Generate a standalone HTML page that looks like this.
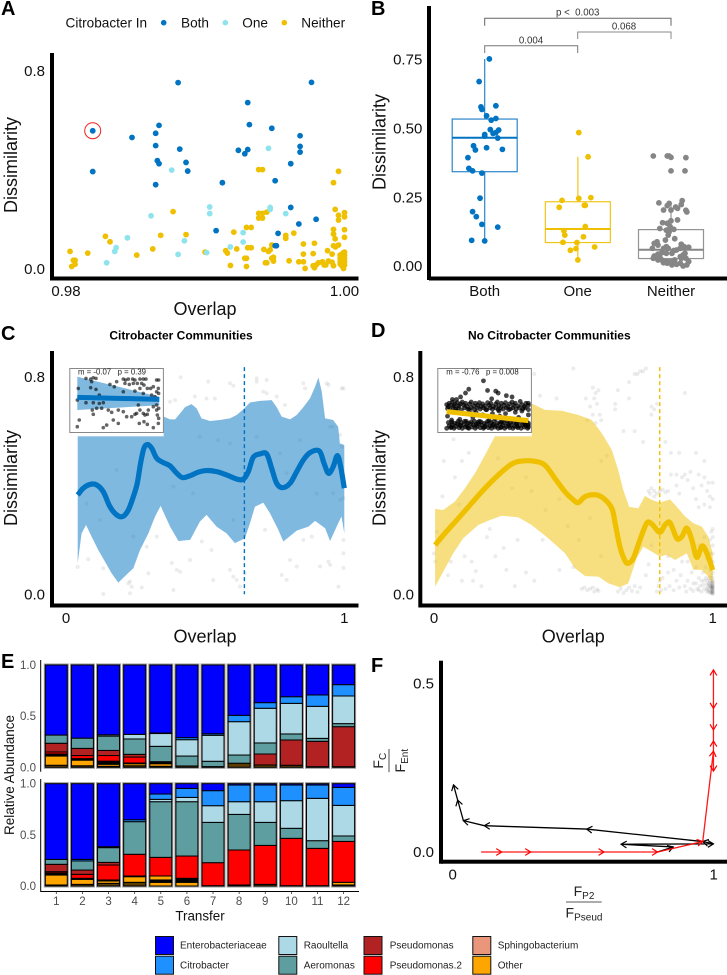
<!DOCTYPE html>
<html lang="en">
<head>
<meta charset="utf-8">
<title>Citrobacter community dissimilarity figure</title>
<style>
html,body{margin:0;padding:0;background:#fff;}
svg{display:block;font-family:"Liberation Sans",Arial,sans-serif;filter:blur(.3px);}
.t15{font-size:15px;fill:#111;}
.t18{font-size:18px;fill:#111;}
.t14{font-size:13.6px;fill:#111;}
.pl{font-size:20px;font-weight:bold;fill:#000;}
.ttl{font-size:12px;font-weight:bold;fill:#000;}
.e{font-size:11.5px;fill:#4d4d4d;}
.lg{font-size:10px;fill:#222;}
.br{font-size:9.7px;fill:#333;white-space:pre;}
.ins{font-size:7.8px;fill:#222;white-space:pre;}
.frac{font-size:14px;fill:#222;}
.sub{font-size:10px;fill:#222;}
</style>
</head>
<body>
<svg id="chart" width="727" height="975" viewBox="0 0 727 975" xmlns="http://www.w3.org/2000/svg">
<rect width="727" height="975" fill="#fff"/>

<!-- Panel letters -->
<text class="pl" x="1" y="15">A</text>
<text class="pl" x="371" y="15">B</text>
<text class="pl" x="1" y="340">C</text>
<text class="pl" x="371" y="337">D</text>
<text class="pl" x="1" y="668">E</text>
<text class="pl" x="371" y="672">F</text>

<!-- Panel A static -->
<g id="panelA"></g>
<text class="t14" x="65.5" y="27.5">Citrobacter In</text>
<circle cx="163.7" cy="22.7" r="2.8" fill="#0073C2"/>
<text class="t14" x="181" y="27.5">Both</text>
<circle cx="225.3" cy="22.7" r="2.8" fill="#8FE3EC"/>
<text class="t14" x="242.3" y="27.5">One</text>
<circle cx="284.3" cy="22.7" r="2.8" fill="#EFC000"/>
<text class="t14" x="301.3" y="27.5">Neither</text>
<rect x="50" y="53" width="4" height="227" fill="#000"/>
<rect x="50" y="276.5" width="308.5" height="4" fill="#000"/>
<circle cx="92.7" cy="130.7" r="8" fill="none" stroke="#f02020" stroke-width="1"/>
<text class="t15" x="45" y="76.2" text-anchor="end">0.8</text>
<text class="t15" x="45" y="273.9" text-anchor="end">0.0</text>
<text class="t15" x="66" y="296.2" text-anchor="middle">0.98</text>
<text class="t15" x="344.5" y="296.2" text-anchor="middle">1.00</text>
<text class="t18" x="205" y="315" text-anchor="middle">Overlap</text>
<text class="t18" transform="translate(17,165) rotate(-90)" text-anchor="middle">Dissimilarity</text>

<!-- Panel B static -->
<g id="panelB"></g>
<rect x="427" y="6" width="4" height="274" fill="#000"/>
<rect x="429" y="276.5" width="298" height="4" fill="#000"/>
<text class="t15" x="422.3" y="64.5" text-anchor="end">0.75</text>
<text class="t15" x="422.3" y="133.7" text-anchor="end">0.50</text>
<text class="t15" x="422.3" y="202.5" text-anchor="end">0.25</text>
<text class="t15" x="422.3" y="271.2" text-anchor="end">0.00</text>
<text class="t15" x="484.7" y="296" text-anchor="middle">Both</text>
<text class="t15" x="577.7" y="296" text-anchor="middle">One</text>
<text class="t15" x="671" y="296" text-anchor="middle">Neither</text>
<text class="t18" transform="translate(385.5,142) rotate(-90)" text-anchor="middle">Dissimilarity</text>
<path d="M484.7 25.7V18.3H671V25.7" fill="none" stroke="#666" stroke-width="1"/>
<path d="M577.7 39V32H671V39" fill="none" stroke="#888" stroke-width="1"/>
<path d="M484.7 53V45.7H577.7V53" fill="none" stroke="#777" stroke-width="1"/>
<text class="br" x="577.7" y="15.5" text-anchor="middle">p &lt;  0.003</text>
<text class="br" x="624" y="29.5" text-anchor="middle">0.068</text>
<text class="br" x="531" y="43.5" text-anchor="middle">0.004</text>

<!-- Panel C static -->
<text class="ttl" x="181" y="339.5" text-anchor="middle">Citrobacter Communities</text>
<g id="panelC"></g>
<rect x="50" y="351" width="4" height="256.5" fill="#000"/>
<rect x="50" y="603.5" width="308.5" height="4" fill="#000"/>
<text class="t15" x="45" y="382" text-anchor="end">0.8</text>
<text class="t15" x="45" y="599.5" text-anchor="end">0.0</text>
<text class="t15" x="66" y="623.2" text-anchor="middle">0</text>
<text class="t15" x="344.3" y="623.2" text-anchor="middle">1</text>
<text class="t18" x="205" y="642.5" text-anchor="middle">Overlap</text>
<text class="t18" transform="translate(17,478) rotate(-90)" text-anchor="middle">Dissimilarity</text>
<g>
<rect x="69.3" y="368.3" width="94.4" height="68" fill="#fff"/>
<g id="insetC"></g>
<rect x="69.8" y="368.5" width="93.6" height="64" fill="none" stroke="#888" stroke-width="1"/>
<text class="ins" x="112" y="374.5" text-anchor="middle">m = -0.07   p = 0.39</text>
</g>

<!-- Panel D static -->
<text class="ttl" x="549.3" y="339.5" text-anchor="middle">No Citrobacter Communities</text>
<g id="panelD"></g>
<rect x="418.3" y="351" width="4" height="256.5" fill="#000"/>
<rect x="420" y="603.5" width="307" height="4" fill="#000"/>
<text class="t15" x="414" y="382" text-anchor="end">0.8</text>
<text class="t15" x="414" y="599.5" text-anchor="end">0.0</text>
<text class="t15" x="434" y="623.2" text-anchor="middle">0</text>
<text class="t15" x="712.7" y="623.2" text-anchor="middle">1</text>
<text class="t18" x="573.3" y="642.5" text-anchor="middle">Overlap</text>
<text class="t18" transform="translate(385.5,478) rotate(-90)" text-anchor="middle">Dissimilarity</text>
<g>
<rect x="437.3" y="368.3" width="94.4" height="68" fill="#fff"/>
<g id="insetD"></g>
<rect x="437.8" y="368.5" width="93.6" height="64" fill="none" stroke="#888" stroke-width="1"/>
<text class="ins" x="482.5" y="374.5" text-anchor="middle">m = -0.76   p = 0.008</text>
</g>

<!-- Panel E static -->
<g id="panelE"></g>
<path d="M40.7 660V771.7M40.7 779V891.5H359" fill="none" stroke="#000" stroke-width="1"/>
<text class="e" x="36" y="669" text-anchor="end">1.0</text>
<text class="e" x="36" y="720" text-anchor="end">0.5</text>
<text class="e" x="36" y="771.3" text-anchor="end">0.0</text>
<text class="e" x="36" y="787.7" text-anchor="end">1.0</text>
<text class="e" x="36" y="839" text-anchor="end">0.5</text>
<text class="e" x="36" y="890" text-anchor="end">0.0</text>
<g id="eTicks"></g>
<text x="200" y="920.5" text-anchor="middle" style="font-size:13.4px;fill:#111">Transfer</text>
<text transform="translate(14,775) rotate(-90)" text-anchor="middle" style="font-size:13.5px;fill:#111">Relative Abundance</text>

<!-- Panel F static -->
<g id="panelF"></g>
<rect x="439" y="660.7" width="4" height="203" fill="#000"/>
<rect x="441" y="859.7" width="286" height="4" fill="#000"/>
<text class="t15" x="434" y="688.5" text-anchor="end">0.5</text>
<text class="t15" x="434" y="857.2" text-anchor="end">0.0</text>
<text class="t15" x="452.7" y="879.5" text-anchor="middle">0</text>
<text class="t15" x="713.7" y="879.5" text-anchor="middle">1</text>
<g>
<text class="frac" x="584" y="896" text-anchor="middle">F<tspan class="sub" dy="3">P2</tspan></text>
<line x1="566" x2="601.7" y1="902" y2="902" stroke="#222" stroke-width="0.8"/>
<text class="frac" x="584" y="917.5" text-anchor="middle">F<tspan class="sub" dy="3">Pseud</tspan></text>
</g>
<g>
<text class="frac" transform="translate(383,760.7) rotate(-90)" text-anchor="middle">F<tspan class="sub" dy="3">C</tspan></text>
<line x1="389" x2="389" y1="749" y2="772.3" stroke="#222" stroke-width="0.8"/>
<text class="frac" transform="translate(405,760.7) rotate(-90)" text-anchor="middle">F<tspan class="sub" dy="3">Ent</tspan></text>
</g>

<!-- Shared legend -->
<g>
<g id="legendE"></g>
<text class="lg" x="180" y="948.7">Enterobacteriaceae</text>
<text class="lg" x="180" y="968.4">Citrobacter</text>
<text class="lg" x="303.7" y="948.7">Raoultella</text>
<text class="lg" x="303.7" y="968.4">Aeromonas</text>
<text class="lg" x="389.7" y="948.7">Pseudomonas</text>
<text class="lg" x="389.7" y="968.4">Pseudomonas.2</text>
<text class="lg" x="497.7" y="948.7">Sphingobacterium</text>
<text class="lg" x="497.7" y="968.4">Other</text>
</g>
</svg>

<script>
/* ---------- Panel A data: [overlap, dissimilarity] ---------- */
const aBoth = [[.98192,.558],[.98192,.393],[.98474,.531],[.98644,.548],[.98668,.58],[.98644,.498],[.98817,.484],[.98656,.437],[.98668,.425],[.98862,.43],[.98874,.395],[.98644,.34],[.98805,.753],[.99123,.348],[.99078,.154],[.99305,.672],[.99317,.583],[.99238,.479],[.99284,.465],[.99305,.482],[.99478,.568],[.99614,.425],[.99681,.538],[.99681,.495],[.99681,.472],[.99763,.754],[.99502,.356],[.99614,.248],[.99672,.181],[.99796,.2],[.99523,.143],[.99502,.093],[.99511,.093]];
const aOne = [[.99454,.487],[.98759,.399],[.99032,.25],[.99032,.223],[.98611,.214],[.98441,.125],[.9836,.085],[.9835,.07],[.98292,.024],[.98805,.058],[.9885,.113],[.9901,.065],[.9918,.088],[.99272,.146],[.99272,.108],[.99466,.248],[.99466,.24],[.99578,.223]];
const aNeither = [[.98029,.07],[.98156,.063],[.98053,.034],[.98065,.034],[.98065,.018],[.98041,.009],[.98283,.131],[.98316,.109],[.98508,.055],[.98623,.08],[.9868,.135],[.98769,.231],[.98862,.138],[.98999,.067],[.99147,.073],[.99159,.063],[.99205,.148],[.99181,.013],[.99226,.08],[.99296,.167],[.9933,.167],[.99305,.085],[.9933,.085],[.99284,.042],[.99296,.042],[.99296,.009],[.99384,.401],[.99411,.401],[.99384,.224],[.99411,.224],[.99384,.205],[.99411,.205],[.99442,.229],[.99421,.078],[.99454,.07],[.99466,.076],[.99432,.024],[.99442,.024],[.99478,.042],[.9949,.046],[.9949,.031],[.99478,.096],[.99578,.135],[.99578,.123],[.99636,.144],[.99602,.032],[.99672,.028],[.99705,.028],[.99705,.1],[.99705,.059],[.99717,.001],[.99784,.103],[.99775,.061],[.99775,.012],[.99784,.004],[.99796,.015],[.99813,.024],[.99842,.028],[.99854,.015],[.99866,.015],[.99885,.031],[.99911,.026],[.99921,.012],[.99878,.073],[.99911,.059],[.99921,.093],[.99935,.088],[.99921,.159],[.99921,.14],[.99933,.121],[.99957,.096],[.99921,.348],[.99957,.394],[.99933,.24],[.99957,.216],[.99957,.197],[1,.227],[1,.21],[1,.158],[1,.127],[.99969,.055],[.99981,.059],[.99993,.065],[1,.067],[1,.055],[.99969,.042],[.99981,.042],[1,.042],[1,.028],[.99969,.028],[.99988,.022],[1,.015],[.99993,.001],[.99981,.012],[.99969,.019]];

/* ---------- Panel B data ---------- */
const bCategories = ["Both","One","Neither"];
const bQ1 = [.342,.085,.027];
const bMedian = [.465,.134,.059];
const bQ3 = [.533,.233,.132];
const bWhiskerLow = [.092,.022,0];
const bWhiskerHigh = [.751,.396,.227];
const bPointsBoth = [[1.05,.751],[.94,.669],[.96,.577],[.97,.568],[1.12,.581],[1.02,.545],[1.07,.529],[1.12,.535],[1.06,.495],[1.15,.493],[1.12,.484],[1.09,.481],[1,.477],[1,.471],[1.14,.464],[.88,.436],[.9,.421],[1.02,.429],[1.19,.423],[.82,.393],[.83,.354],[.87,.345],[.97,.337],[.95,.246],[.87,.197],[.91,.179],[.97,.151],[1.14,.141],[.86,.093],[1,.091]];
const bPointsOne = [[2.01,.484],[2.11,.396],[2.01,.245],[2.14,.248],[1.83,.238],[1.8,.213],[2.07,.22],[2.08,.22],[2.08,.143],[1.85,.128],[1.86,.112],[2.06,.106],[1.84,.086],[1.99,.085],[1.98,.063],[1.92,.057],[2.18,.069],[2,.022]];
const bPointsNeither = [[2.81,.399],[2.96,.399],[2.98,.399],[3,.394],[3.16,.393],[3,.345],[3.15,.345],[2.87,.229],[2.98,.227],[2.96,.219],[3.12,.237],[3.11,.223],[3.05,.214],[3.07,.209],[3.16,.202],[3.17,.196],[2.92,.203],[3,.203],[3.07,.167],[2.91,.157],[3,.164],[2.96,.155],[2.88,.136],[2.99,.143],[2.95,.13],[3.03,.133],[2.98,.124],[3.04,.099],[2.97,.112],[2.94,.094],[2.85,.088],[2.82,.082],[2.86,.076],[2.8,.064],[2.92,.064],[2.95,.07],[2.97,.064],[3.03,.056],[3.06,.058],[3.11,.079],[3.14,.07],[3.19,.068],[3.1,.064],[3.15,.046],[2.86,.043],[2.82,.036],[2.85,.034],[2.88,.031],[2.81,.028],[2.9,.022],[2.94,.016],[2.97,.016],[3.01,.016],[3.04,.022],[3.1,.034],[3.13,.04],[3.16,.028],[3.19,.016],[3.17,.004],[3.13,0],[3.1,.01],[3.06,.006],[3.01,.004],[2.96,.01],[2.92,.012],[2.86,.022],[3.11,.028],[2.95,.046],[3.01,.046],[2.9,.048]];

/* ---------- Panel C data ---------- */
const cLine = [[.042,.365],[.062,.39],[.086,.404],[.11,.402],[.134,.377],[.158,.322],[.182,.292],[.204,.286],[.224,.31],[.242,.359],[.256,.408],[.268,.482],[.28,.537],[.293,.551],[.308,.537],[.326,.5],[.35,.484],[.374,.472],[.398,.445],[.419,.429],[.446,.436],[.475,.449],[.505,.455],[.541,.451],[.577,.439],[.613,.424],[.637,.423],[.655,.451],[.673,.504],[.697,.516],[.721,.516],[.739,.463],[.757,.408],[.778,.392],[.805,.408],[.829,.451],[.853,.494],[.877,.521],[.91,.527],[.927,.482],[.943,.445],[.96,.469],[.975,.51],[.987,.469],[1,.39]];
const cUpper = [[.042,.641],[.351,.653],[.374,.643],[.392,.643],[.41,.665],[.428,.688],[.451,.699],[.469,.684],[.487,.647],[.517,.637],[.553,.641],[.589,.647],[.613,.659],[.637,.68],[.661,.705],[.697,.711],[.739,.714],[.757,.688],[.775,.653],[.805,.643],[.829,.659],[.853,.688],[.877,.721],[.895,.763],[.907,.797],[.919,.745],[.931,.647],[.96,.641],[.978,.616],[.984,.555],[1,.549]];
const cLower = [[.042,.114],[.056,.224],[.072,.255],[.092,.212],[.116,.163],[.14,.12],[.164,.077],[.188,.043],[.212,.067],[.242,.096],[.266,.163],[.296,.224],[.32,.286],[.34,.325],[.374,.249],[.404,.196],[.446,.2],[.481,.267],[.505,.292],[.541,.249],[.577,.224],[.607,.188],[.643,.206],[.661,.261],[.679,.322],[.709,.337],[.733,.298],[.763,.237],[.781,.194],[.829,.234],[.871,.249],[.895,.27],[.931,.243],[.949,.196],[.978,.261],[.99,.286],[1,.224]];
const cMeanOverlap = [.641];
const cBackground = [[.412,.798],[.511,.782],[.589,.776],[.601,.767],[.685,.794],[.685,.782],[.721,.788],[.853,.776],[.859,.757],[.937,.776],[.943,.77],[.991,.757],[.997,.757],[.709,.745],[.721,.739],[.535,.72],[.505,.72],[.392,.714],[.374,.708],[.463,.727],[.757,.727],[.787,.696],[.985,.586],[.991,.543],[.042,.101],[.08,.129],[.134,.096],[.134,.001],[.23,.004],[.23,.047],[.224,.04],[.236,.028],[.272,.025],[.29,.175],[.326,.212],[.296,.077],[.38,.115],[.398,.09],[.41,.083],[.446,.126],[.386,.016],[.488,.194],[.523,.163],[.529,.052],[.589,.09],[.601,.065],[.643,.077],[.613,.053],[.625,.028],[.715,.237],[.775,.071],[.793,.053],[.805,.126],[.829,.102],[.853,.2],[.883,.212],[.943,.12],[.913,.102],[.949,.108],[.979,.028],[.997,.097],[.997,.2],[.997,.151],[.074,.334],[.122,.273],[.182,.457],[.242,.212],[.386,.396],[.457,.371],[.481,.58],[.547,.567],[.601,.273],[.589,.555],[.793,.445],[.841,.567],[.901,.37],[.949,.616],[.96,.616],[.985,.347],[.997,.353],[.96,.371],[.769,.518],[.685,.579]];
const cInsetPoints = [[.106,.742],[.163,.733],[.228,.742],[.195,.751],[.175,.698],[.012,.607],[.163,.617],[.228,.594],[.268,.518],[.398,.661],[.48,.698],[.451,.63],[.561,.733],[.589,.72],[.622,.733],[.675,.733],[.703,.72],[.764,.733],[.805,.733],[.837,.733],[.967,.72],[.992,.72],[.581,.675],[.634,.661],[.683,.675],[.732,.675],[.785,.675],[.813,.652],[.764,.607],[.854,.607],[.894,.607],[.927,.63],[.967,.562],[.988,.607],[.992,.54],[.561,.562],[.703,.571],[.805,.54],[.907,.518],[.947,.495],[0,.45],[.106,.414],[.195,.414],[.268,.405],[.317,.414],[.024,.18],[0,.09],[.183,.315],[.195,.257],[.236,.338],[.297,.338],[.378,.315],[.419,.284],[.5,.315],[.561,.293],[.602,.225],[.663,.225],[.703,.257],[.317,.077],[.358,.112],[.439,.18],[.5,.135],[.744,.383],[.764,.315],[.805,.27],[.825,.248],[.866,.315],[.927,.36],[.967,.383],[.756,.135],[.813,.157],[.854,.122],[.927,.077],[.988,.135],[.992,.203],[.976,.248],[.724,.27],[.854,.257],[.967,.315],[.992,.338]];
const cInsetFit = [[0,.486],[1,.459]];
const cInsetBandUpper = [[0,.765],[1,.495]];
const cInsetBandLower = [[0,.315],[1,.38]];

/* ---------- Panel D data ---------- */
const dLine = [[.004,.181],[.039,.224],[.087,.279],[.135,.335],[.183,.39],[.231,.439],[.279,.479],[.315,.49],[.362,.489],[.398,.475],[.434,.426],[.47,.377],[.5,.347],[.518,.337],[.542,.359],[.578,.366],[.608,.353],[.638,.316],[.65,.261],[.667,.175],[.685,.124],[.697,.114],[.715,.132],[.739,.2],[.763,.261],[.781,.259],[.81,.228],[.829,.255],[.847,.263],[.871,.206],[.889,.212],[.907,.243],[.925,.2],[.943,.136],[.963,.178],[.984,.138],[1,.089]];
const dUpper = [[.004,.314],[.033,.31],[.075,.341],[.111,.39],[.147,.445],[.183,.512],[.219,.582],[.267,.641],[.35,.702],[.398,.678],[.458,.675],[.518,.659],[.566,.641],[.602,.592],[.638,.531],[.661,.457],[.679,.384],[.7,.322],[.733,.316],[.757,.362],[.781,.347],[.81,.337],[.847,.349],[.871,.322],[.901,.286],[.931,.261],[.961,.249],[.984,.212],[1,.151]];
const dLower = [[.004,.028],[.033,.083],[.069,.151],[.105,.206],[.159,.255],[.201,.273],[.243,.289],[.303,.283],[.35,.255],[.41,.206],[.47,.151],[.506,.096],[.542,.067],[.59,.065],[.626,.04],[.667,.026],[.697,.04],[.727,.132],[.751,.175],[.781,.157],[.81,.139],[.835,.145],[.865,.126],[.907,.151],[.931,.09],[.961,.09],[.984,.065],[1,.04]];
const dMeanOverlap = [.81];
const dBackground = [[0,.15],[.005,.12],[.01,.23],[.015,.2],[.03,.36],[.035,.49],[.05,.07],[.06,.12],[.075,.43],[.09,.33],[.1,.49],[.11,.14],[.125,.52],[.135,.12],[.14,.05],[.15,.085],[.1,.05],[.17,.03],[.19,.21],[.2,.24],[.22,.14],[.25,.17],[.26,.09],[.29,.03],[.3,.2],[.33,.08],[.36,.05],[.39,.2],[.07,.57],[.04,.59],[.13,.78],[.2,.65],[.3,.62],[.36,.81],[.44,.72],[.5,.83],[.38,.73],[.23,.5],[.28,.39],[.33,.43],[.35,.38],[.4,.31],[.45,.35],[.48,.25],[.52,.2],[.56,.28],[.6,.49],[.62,.51],[.6,.14],[.5,.1],[.45,.09],[.57,.76],[.575,.72],[.58,.74],[.585,.7],[.59,.75],[.57,.66],[.55,.64],[.58,.63],[.6,.64],[.595,.66],[.56,.69],[.545,.72],[.65,.68],[.65,.7],[.66,.75],[.7,.72],[.7,.78],[.72,.81],[.74,.82],[.75,.82],[.73,.81],[.76,.83],[.78,.69],[.79,.68],[.78,.66],[.8,.7],[.9,.74],[.83,.56],[.85,.52],[.88,.52],[.94,.52],[.97,.49],[.75,.56],[.72,.6],[.68,.6],[.77,.38],[.775,.37],[.78,.39],[.79,.38],[.8,.37],[.81,.38],[.82,.385],[.83,.375],[.84,.38],[.79,.36],[.85,.44],[.87,.44],[.89,.43],[.9,.44],[.91,.42],[.92,.45],[.95,.44],[.97,.43],[.985,.41],[1,.41],[.96,.4],[.98,.38],[.99,.36],[.87,.4],[.88,.37],[.93,.39],[.94,.35],[.95,.32],[.97,.33],[1,.35],[.99,.32],[.53,.02],[.54,.025],[.55,.015],[.56,.02],[.57,.025],[.575,.01],[.585,.018],[.59,.012],[.66,.01],[.67,.02],[.68,.005],[.69,.015],[.7,.025],[.71,.012],[.72,.03],[.73,.008],[.74,.025],[.8,.01],[.805,.03],[.81,.05],[.815,.015],[.82,.06],[.83,.02],[.84,.08],[.845,.03],[.86,.015],[.87,.05],[.88,.025],[.885,.07],[.9,.03],[.905,.01],[.91,.05],[.92,.02],[.925,.08],[.93,.04],[.94,.1],[.945,.02],[.95,.06],[.955,.03],[.96,.01],[.965,.08],[.97,.05],[.975,.1],[.98,.02],[.98,.13],[.985,.06],[.985,.04],[.99,.01],[.99,.09],[.99,.15],[.995,.03],[.995,.07],[.995,.12],[1,.005],[1,.02],[1,.03],[1,.04],[1,.05],[1,.06],[1,.08],[1,.1],[1,.12],[1,.15],[1,.18],[1,.21],[1,.24],[.99,.2],[.995,.23],[.97,.21],[.95,.18],[.93,.17],[.91,.12],[.89,.12],[.86,.09],[.84,.14],[.78,.18],[.77,.11],[.76,.07]];
const dBackgroundEdge = [[1,.001],[1,.008],[1,.012],[1,.016],[1,.024],[1,.028],[1,.035],[1,.045],[.998,.004],[.998,.018],[.998,.03],[.996,.01],[.996,.022],[.996,.045],[.993,.005],[.993,.025],[.993,.04],[.993,.06],[.99,.03],[.99,.05],[.987,.015],[.987,.035],[.984,.007],[.984,.025],[.981,.05],[.978,.012],[.978,.035],[.975,.06],[.97,.02],[.965,.035],[.96,.05],[.95,.015],[.94,.04],[.93,.012]];
const dInsetPoints = [[0,.38],[.02,.35],[.03,.4],[.05,.37],[.07,.42],[.09,.36],[.1,.39],[.13,.41],[.15,.36],[.17,.39],[.19,.42],[.21,.37],[.23,.4],[.25,.35],[.28,.39],[.3,.42],[.33,.36],[.35,.4],[.38,.37],[.4,.41],[.42,.35],[.44,.39],[.47,.36],[.5,.41],[.52,.37],[.54,.4],[.57,.35],[.6,.39],[.62,.42],[.64,.36],[.67,.4],[.7,.37],[.72,.41],[.75,.35],[.77,.39],[.8,.42],[.82,.37],[.84,.4],[.87,.36],[.9,.43],[.92,.38],[.95,.35],[.97,.4],[1,.37],[1,.4],[.45,.75],[.5,.6],[.6,.59],[.63,.56],[.27,.62],[.23,.56],[.73,.52],[.17,.5],[.8,.5],[.07,.46],[.12,.46],[.55,.47],[.01,.2],[.06,.14],[.12,.28],[.16,.15],[.2,.24],[.24,.12],[.28,.3],[.32,.18],[.36,.26],[.4,.12],[.44,.22],[.48,.3],[.52,.13],[.56,.24],[.6,.16],[.64,.28],[.68,.12],[.72,.24],[.76,.3],[.8,.14],[.84,.26],[.88,.18],[.92,.28],[.96,.12],[1,.22],[.3,.24],[.65,.2],[0,.01],[.03,.05],[.05,.02],[.07,.07],[.09,.01],[.11,.04],[.13,.08],[.15,.02],[.17,.05],[.19,.01],[.21,.07],[.23,.03],[.25,.05],[.27,.01],[.29,.08],[.31,.03],[.33,.06],[.35,.01],[.37,.04],[.39,.08],[.41,.02],[.43,.06],[.45,.01],[.47,.04],[.49,.08],[.51,.02],[.53,.05],[.55,.01],[.57,.07],[.59,.03],[.61,.05],[.63,.01],[.65,.08],[.67,.03],[.69,.06],[.71,.01],[.73,.04],[.75,.08],[.77,.02],[.79,.06],[.81,.01],[.83,.04],[.85,.08],[.87,.02],[.89,.05],[.91,.01],[.93,.07],[.95,.03],[.97,.05],[.99,.01],[1,.06],[1,.03]];
const dInsetDense = [[.01,.32],[.04,.3],[.08,.33],[.11,.31],[.14,.33],[.18,.3],[.22,.33],[.26,.31],[.3,.33],[.34,.3],[.37,.33],[.41,.31],[.45,.33],[.49,.3],[.53,.33],[.56,.31],[.6,.33],[.63,.3],[.66,.33],[.69,.31],[.73,.33],[.78,.31],[.81,.33],[.85,.31],[.89,.33],[.93,.31],[.96,.33],[1,.3],[.02,.1],[.06,.11],[.1,.09],[.14,.12],[.18,.1],[.22,.12],[.26,.09],[.3,.11],[.34,.12],[.38,.1],[.42,.11],[.46,.09],[.5,.12],[.54,.1],[.58,.12],[.62,.09],[.66,.11],[.7,.1],[.74,.12],[.78,.1],[.82,.11],[.86,.09],[.9,.12],[.94,.1],[.98,.11],[1,.09],[.06,.03],[.16,.06],[.26,.02],[.36,.07],[.46,.03],[.56,.06],[.66,.02],[.76,.05],[.86,.04],[.96,.07]];
const dInsetFit = [[0,.27],[1,.13]];

/* ---------- Panel E data: fractions, one per transfer ---------- */
const transfers = [1,2,3,4,5,6,7,8,9,10,11,12];
const topLow = [.02,.015,.01,.015,.01,.013,.007,.04,.023,.02,.006,.006];
const topOther = [.09,.055,.02,.02,.025,0,0,0,0,0,0,0];
const topMinor = [.02,.015,.03,.007,.02,0,0,0,0,0,0,0];
const topOther2 = [0,0,0,0,0,0,0,0,0,0,0,0];
const topPseudo2 = [.02,.03,.055,.058,0,0,0,0,0,0,0,0];
const topPseudo = [.085,.07,.05,.027,0,0,0,0,.107,.247,.248,.391];
const topAero = [.08,.1,.14,.15,.15,.097,.052,.08,.108,.059,.029,.03];
const topRaoul = [0,0,.013,.045,.125,.16,.254,.326,.339,.299,.313,.27];
const topCitro = [0,0,0,0,.005,.02,.015,.062,.055,.065,.111,.111];
const topEntero = [.685,.715,.682,.678,.665,.71,.672,.492,.368,.31,.293,.192];
const botLow = [.01,.016,.026,.036,0,0,.003,.01,.016,.003,.003,.01];
const botOther = [.097,.049,.023,.055,.036,.036,0,0,0,0,0,.026];
const botMinor = [.02,.01,.01,.007,.023,.039,0,0,0,0,0,0];
const botOther2 = [0,0,0,0,.039,0,0,0,0,0,0,0];
const botPseudo2 = [.013,.039,.146,.212,.182,.218,.225,.342,.381,.463,.365,.4];
const botPseudo = [.072,.042,.026,0,0,0,0,0,0,0,0,0];
const botAero = [.048,.089,.144,.319,.544,.531,.394,.348,.225,.098,.075,.053];
const botRaoul = [0,0,0,0,.023,.042,.163,.124,.202,.27,.414,.299];
const botCitro = [0,.015,.009,.019,.052,.088,.147,.163,.163,.153,.13,.176];
const botEntero = [.74,.74,.616,.352,.101,.046,.068,.013,.013,.013,.013,.036];
const taxaLabels = ["Enterobacteriaceae","Citrobacter","Raoultella","Aeromonas","Pseudomonas","Pseudomonas.2","Sphingobacterium","Other"];

/* ---------- Panel F data: [F_P2/F_Pseud, F_C/F_Ent], in time order ---------- */
const fBlack = [[.785,0],[.845,.015],[.645,.023],[.999,.024],[.958,.031],[.513,.068],[.121,.078],[.041,.093],[.019,.154],[.003,.199]];
const fRed = [[.109,0],[.188,0],[.299,0],[.58,0],[.785,0],[.958,.031],[.999,.299],[.999,.54],[.999,.426],[.999,.362],[.999,.24],[.999,.329]];

/* ---------- Axis functions ---------- */
const axA = v => 66 + (v - .98) / .02 * 278.5;
const ayA = v => 268.7 - v / .8 * 197.7;
const axB = v => 484.7 + (v - 1) * 93.15;
const ayB = v => 266 - v * 275.7;
const axC = v => 66 + v * 278.3;
const axD = v => 434 + v * 278.7;
const ayCD = v => 594.3 - v * 272;
const ixC = v => 77.3 + v * 82;
const iyC = v => 426.7 - (v - .09) * 74.07;
const ixD = v => 446.7 + v * 81.7;
const iyD = v => 429 - v * 64.2;
const axE = i => 56.3 + i * 26.12;
const ayET = v => 767.3 - v * 102.3;
const ayEB = v => 886 - v * 102.3;
const axF = v => 452.7 + v * 261;
const ayF = v => 852 - v * 337.3;

const NS = 'http://www.w3.org/2000/svg';
function mk(tag, attrs, parent) {
  const el = document.createElementNS(NS, tag);
  for (const k in attrs) el.setAttribute(k, attrs[k]);
  parent.appendChild(el);
  return el;
}
function dots(parent, data, sx, sy, r, fill, op, name) {
  data.forEach(p => {
    const c = mk('circle', {cx: sx(p[0]), cy: sy(p[1]), r: r, fill: fill, 'fill-opacity': op}, parent);
    
    
  });
}
function curve(points, sx, sy) {
  const p = points.map(d => [sx(d[0]), sy(d[1])]);
  let s = 'M' + p[0][0] + ' ' + p[0][1];
  for (let i = 0; i < p.length - 1; i++) {
    const a = p[Math.max(i - 1, 0)], b = p[i], c = p[i + 1], d = p[Math.min(i + 2, p.length - 1)];
    s += 'C' + (b[0] + (c[0] - a[0]) / 6) + ' ' + (b[1] + (c[1] - a[1]) / 6) + ' ' +
         (c[0] - (d[0] - b[0]) / 6) + ' ' + (c[1] - (d[1] - b[1]) / 6) + ' ' + c[0] + ' ' + c[1];
  }
  return s;
}
function ribbon(upper, lower, sx, sy) {
  return 'M' + upper.concat(lower.slice().reverse()).map(d => sx(d[0]) + ' ' + sy(d[1])).join('L') + 'Z';
}
const byId = id => document.getElementById(id);

/* ---------- Panel A ---------- */
const gA = byId('panelA');
dots(gA, aNeither, axA, ayA, 2.9, '#EFC000', 1, 'point-neither');
dots(gA, aOne, axA, ayA, 2.9, '#8FE3EC', 1, 'point-one');
dots(gA, aBoth, axA, ayA, 2.9, '#0073C2', 1, 'point-both');

/* ---------- Panel B ---------- */
const gB = byId('panelB');
const bColors = ['#0073C2', '#EFC000', '#868686'];
const bStroke = ['#2A86CC', '#F1C518', '#949494'];
bCategories.forEach((cat, i) => {
  const cx = axB(i + 1), w = 32.5;
  const wh = mk('line', {x1: cx, x2: cx, y1: ayB(bWhiskerHigh[i]), y2: ayB(bWhiskerLow[i]), stroke: bStroke[i], 'stroke-width': 1.2}, gB);
  
  
  const box = mk('rect', {x: cx - w, y: ayB(bQ3[i]), width: 2 * w, height: ayB(bQ1[i]) - ayB(bQ3[i]), fill: '#fff', stroke: bStroke[i], 'stroke-width': 1.2}, gB);
  
  
  const med = mk('line', {x1: cx - w, x2: cx + w, y1: ayB(bMedian[i]), y2: ayB(bMedian[i]), stroke: bColors[i], 'stroke-width': 2}, gB);
  
  
});
dots(gB, bPointsBoth, axB, ayB, 2.9, '#0073C2', 1, 'jitter-point-both');
dots(gB, bPointsOne, axB, ayB, 2.9, '#EFC000', 1, 'jitter-point-one');
dots(gB, bPointsNeither, axB, ayB, 2.9, '#868686', 1, 'jitter-point-neither');

/* ---------- Panels C and D ---------- */
function smoothPanel(g, sx, bg, up, lo, line, color, mean) {
  dots(g, bg, sx, ayCD, 2, '#000', .075, 'background-point');
  const rb = mk('path', {d: ribbon(up, lo, sx, ayCD), fill: color, 'fill-opacity': .5, stroke: 'none'}, g);
  
  
  const dl = mk('line', {x1: sx(mean[0]), x2: sx(mean[0]), y1: ayCD(.835), y2: ayCD(0), stroke: color, 'stroke-width': 1.4, 'stroke-dasharray': '4 3'}, g);
  
  
  const ln = mk('path', {d: curve(line, sx, ayCD), fill: 'none', stroke: color, 'stroke-width': 5.2, 'stroke-linejoin': 'round'}, g);
  
  
}
smoothPanel(byId('panelC'), axC, cBackground, cUpper, cLower, cLine, '#0073C2', cMeanOverlap);
smoothPanel(byId('panelD'), axD, dBackground.concat(dBackgroundEdge), dUpper, dLower, dLine, '#EFC000', dMeanOverlap);

const gIC = byId('insetC');
const bandC = mk('path', {d: ribbon(cInsetBandUpper, cInsetBandLower, ixC, iyC), fill: '#0073C2', 'fill-opacity': .5}, gIC);


dots(gIC, cInsetPoints, ixC, iyC, 1.8, '#000', .6, 'c-inset-point');
const fitC = mk('path', {d: curve(cInsetFit, ixC, iyC), stroke: '#0073C2', 'stroke-width': 5, fill: 'none'}, gIC);



const gID = byId('insetD');
dots(gID, dInsetPoints.concat(dInsetDense), ixD, iyD, 2.4, '#000', .72, 'd-inset-point');
const fitD = mk('path', {d: curve(dInsetFit, ixD, iyD), stroke: '#EFC000', 'stroke-width': 5, fill: 'none'}, gID);



/* ---------- Panel E ---------- */
const gE = byId('panelE');
const segColors = ['#5c3d00', '#FFA500', '#000000', '#FFA500', '#FF0000', '#B22222', '#5F9EA0', '#ADD8E6', '#1E90FF', '#0000FF'];
const segNames = ['low-abundance', 'other', 'minor-taxon', 'other-upper', 'pseudomonas-2', 'pseudomonas', 'aeromonas', 'raoultella', 'citrobacter', 'enterobacteriaceae'];
function stackPanel(series, sy, label) {
  transfers.forEach((t, i) => {
    const bw = 22, x = axE(i) - bw / 2;
    const halo = mk('rect', {x: x - 1.5, y: sy(1) - 1.5, width: bw + 3, height: sy(0) - sy(1) + 3, fill: '#9a9a9a'}, gE);
    
    
    let acc = 0;
    series.forEach((arr, s) => {
      const v = arr[i];
      if (v <= 0) return;
      const r = mk('rect', {x: x, y: sy(acc + v), width: bw, height: sy(acc) - sy(acc + v), fill: segColors[s], stroke: '#000', 'stroke-width': 1}, gE);
      
      
      acc += v;
    });
  });
}
stackPanel([topLow, topOther, topMinor, topOther2, topPseudo2, topPseudo, topAero, topRaoul, topCitro, topEntero], ayET, 'top');
stackPanel([botLow, botOther, botMinor, botOther2, botPseudo2, botPseudo, botAero, botRaoul, botCitro, botEntero], ayEB, 'bottom');

const gT = byId('eTicks');
transfers.forEach((t, i) => {
  const tick = mk('line', {x1: axE(i), x2: axE(i), y1: 891.5, y2: 894, stroke: '#333', 'stroke-width': .8}, gT);
  
  
  const lab = mk('text', {x: axE(i), y: 905.2, 'text-anchor': 'middle', class: 'e'}, gT);
  lab.textContent = t;
  
  
});

/* legend swatches */
const gL = byId('legendE');
const swatchColors = ['#0000FF', '#1E90FF', '#ADD8E6', '#5F9EA0', '#B22222', '#FF0000', '#E9967A', '#FFA500'];
const swatchColumns = [155.5, 278.8, 364, 472.8];
taxaLabels.forEach((name, i) => {
  const col = Math.floor(i / 2), row = i % 2;
  const sw = mk('rect', {x: swatchColumns[col], y: 936.5 + row * 19.7, width: 18, height: 18, fill: swatchColors[i], stroke: '#111', 'stroke-width': 1}, gL);
  
  
});

/* ---------- Panel F ---------- */
const gF = byId('panelF');
function trajectory(data, color, op, name) {
  const line = mk('path', {d: 'M' + data.map(p => axF(p[0]) + ' ' + ayF(p[1])).join('L'), fill: 'none', stroke: color, 'stroke-width': 1.3, 'stroke-opacity': op}, gF);
  
  
  for (let i = 1; i < data.length; i++) {
    const x0 = axF(data[i - 1][0]), y0 = ayF(data[i - 1][1]), x1 = axF(data[i][0]), y1 = ayF(data[i][1]);
    const a = Math.atan2(y1 - y0, x1 - x0), L = 6.5, w = .55;
    const d = 'M' + (x1 - L * Math.cos(a - w)) + ' ' + (y1 - L * Math.sin(a - w)) + 'L' + x1 + ' ' + y1 + 'L' + (x1 - L * Math.cos(a + w)) + ' ' + (y1 - L * Math.sin(a + w));
    const head = mk('path', {d: d, fill: 'none', stroke: color, 'stroke-width': 1.2}, gF);
    
    
  }
}
trajectory(fBlack, '#000', 1, 'black-trajectory');
trajectory(fRed, '#FF0000', .9, 'red-trajectory');
</script>
</body>
</html>
